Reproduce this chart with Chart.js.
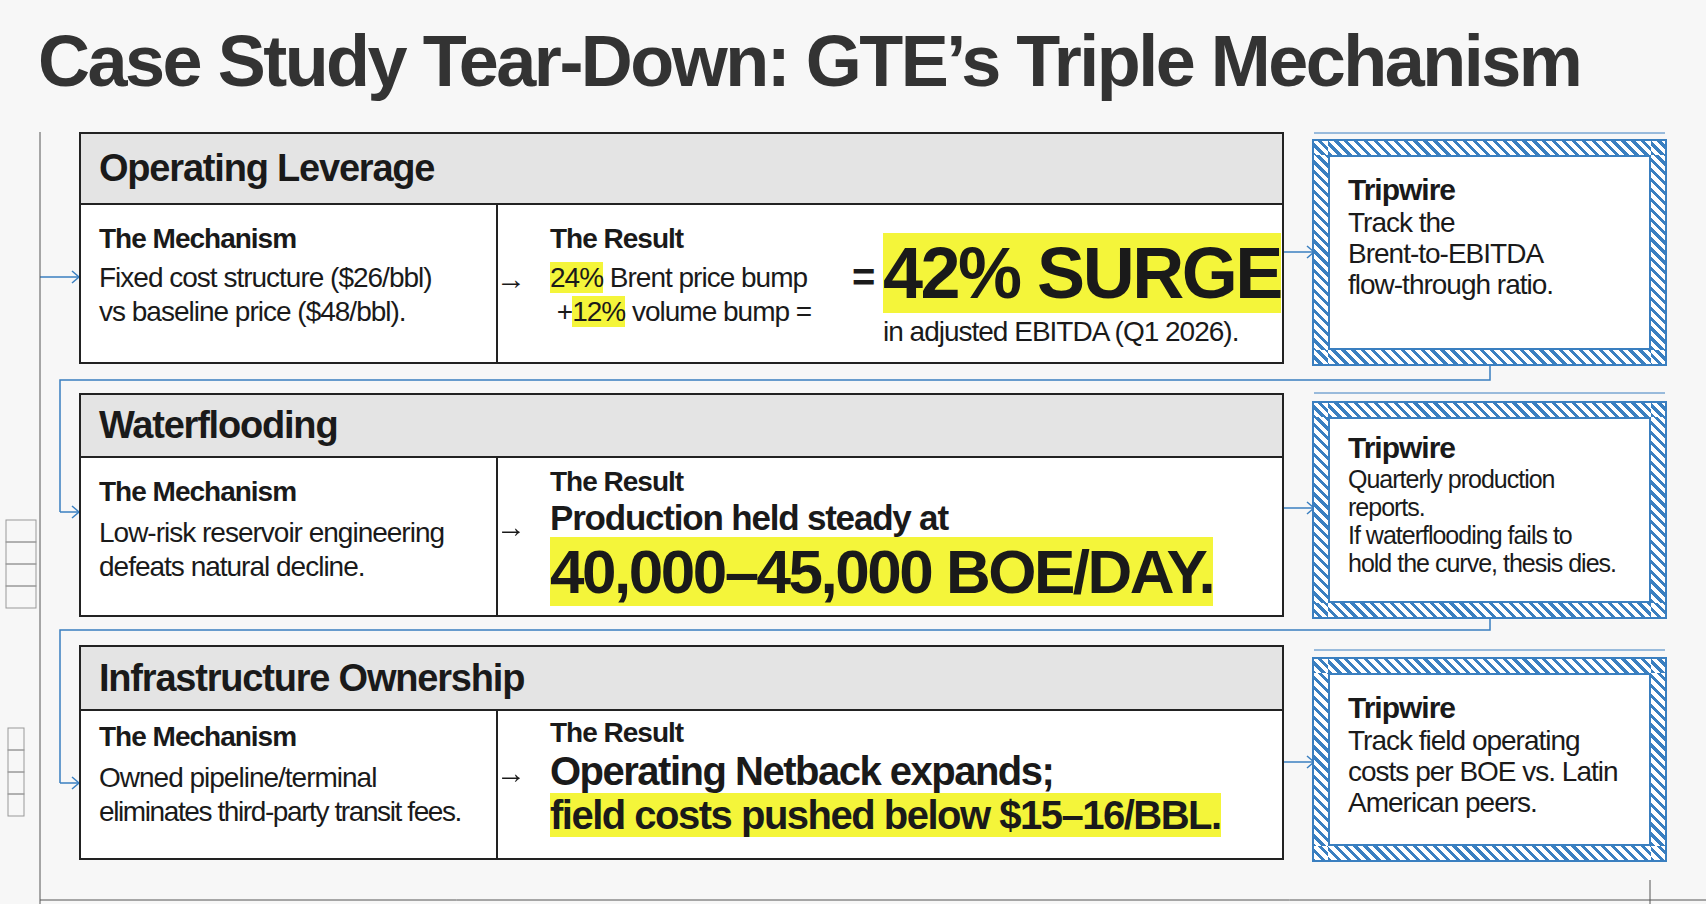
<!DOCTYPE html>
<html><head><meta charset="utf-8">
<script src="https://cdn.jsdelivr.net/npm/chart.js@4.4.0/dist/chart.umd.min.js"></script>
<style>
body{margin:0;width:1706px;height:904px;background:#f7f7f7;font-family:"Liberation Sans",Arial,sans-serif;color:#1a1a1a;position:relative;overflow:hidden}
div{white-space:nowrap}
#bg{position:absolute;left:0;top:0}
h1{position:absolute;left:38px;top:20px;margin:0;font-size:72px;font-weight:700;letter-spacing:-2.5px;color:#333}
.row{position:absolute;left:79px;width:1205px;border:2px solid #222;background:#fff;box-sizing:border-box}
.hd{background:#e4e4e4;border-bottom:2px solid #222;font-weight:700;font-size:38px;letter-spacing:-1.2px;padding-left:18px;box-sizing:border-box;display:flex;align-items:center}
.mech{position:absolute;left:0;width:417px;bottom:0;border-right:2px solid #222;padding:18px 0 0 18px;box-sizing:border-box}
.res{position:absolute;left:419px;right:0;bottom:0;padding:18px 0 0 50px;box-sizing:border-box}
.lbl{font-weight:700;font-size:28px;letter-spacing:-1px}
.txt{font-size:28px;letter-spacing:-1px;line-height:34px}
.hl{background:#f4f53a}
.arr{position:absolute;font-size:30px}
.trip{position:absolute;left:1314px;width:351px;box-sizing:border-box;border:14px solid transparent;
 background:repeating-linear-gradient(45deg,#3a7fc0 0 3px,#fff 3px 7px);outline:2px solid #3a7fc0}
.trip .in{background:#fff;height:100%;border:2px solid #3a7fc0;box-sizing:border-box;padding:16px 18px}
.trip .t{font-weight:700;font-size:30px;letter-spacing:-1px}
.trip .s{font-size:28px;letter-spacing:-1px;line-height:31px}
</style></head><body>
<canvas id="bg" width="1706" height="904"></canvas>
<h1>Case Study Tear-Down: GTE’s Triple Mechanism</h1>

<div class="row" style="top:132px;height:232px">
 <div class="hd" style="height:71px">Operating Leverage</div>
 <div class="mech" style="top:71px"><div class="lbl">The Mechanism</div><div class="txt" style="margin-top:6px">Fixed cost structure ($26/bbl)<br>vs baseline price ($48/bbl).</div></div>
 <div class="res" style="top:71px"><div class="lbl">The Result</div>
  <div class="txt" style="margin-top:6px"><span class="hl">24%</span> Brent price bump<br>&nbsp;+<span class="hl">12%</span> volume bump =</div>
  <div style="position:absolute;left:383px;top:32px;font-size:72px;font-weight:700;letter-spacing:-2.5px;line-height:72px"><span class="hl">42% SURGE</span></div>
  <div class="txt" style="position:absolute;left:383px;top:110px">in adjusted EBITDA (Q1 2026).</div>
  <div style="position:absolute;left:352px;top:50px;font-size:40px;font-weight:700">=</div>
 </div>
</div>

<div class="row" style="top:393px;height:224px">
 <div class="hd" style="height:63px">Waterflooding</div>
 <div class="mech" style="top:63px"><div class="lbl">The Mechanism</div><div class="txt" style="margin-top:8px">Low-risk reservoir engineering<br>defeats natural decline.</div></div>
 <div class="res" style="top:63px;padding-top:8px"><div class="lbl">The Result</div>
  <div style="font-size:35px;font-weight:700;letter-spacing:-1.2px">Production held steady at</div>
  <div style="font-size:62px;font-weight:700;letter-spacing:-2.5px;line-height:68px"><span class="hl">40,000–45,000 BOE/DAY.</span></div>
 </div>
</div>

<div class="row" style="top:645px;height:215px">
 <div class="hd" style="height:64px">Infrastructure Ownership</div>
 <div class="mech" style="top:64px;padding-top:10px"><div class="lbl">The Mechanism</div><div class="txt" style="margin-top:8px">Owned pipeline/terminal<br><span style="letter-spacing:-1.4px">eliminates third-party transit fees.</span></div></div>
 <div class="res" style="top:64px;padding-top:6px"><div class="lbl">The Result</div>
  <div style="font-size:40px;font-weight:700;letter-spacing:-1.5px;line-height:44px">Operating Netback expands;<br><span class="hl">field costs pushed below $15–16/BBL.</span></div>
 </div>
</div>

<div class="arr" style="left:496px;top:262px">→</div>
<div class="arr" style="left:496px;top:510px">→</div>
<div class="arr" style="left:496px;top:756px">→</div>

<div class="trip" style="top:141px;height:223px"><div class="in"><div class="t">Tripwire</div><div class="s">Track the<br>Brent-to-EBITDA<br>flow-through ratio.</div></div></div>
<div class="trip" style="top:403px;height:214px"><div class="in" style="padding-top:12px"><div class="t">Tripwire</div><div class="s" style="font-size:25px;line-height:28px;letter-spacing:-1px">Quarterly production<br>reports.<br>If waterflooding fails to<br>hold the curve, thesis dies.</div></div></div>
<div class="trip" style="top:659px;height:201px"><div class="in"><div class="t">Tripwire</div><div class="s">Track field operating<br>costs per BOE vs. Latin<br>American peers.</div></div></div>

<script>
// connector lines drawn on a Chart.js canvas via plugin
const links = [
  {x1:40,y1:277,x2:79,y2:277},{x1:1284,y1:252,x2:1314,y2:252},
  {x1:1284,y1:508,x2:1314,y2:508},{x1:1284,y1:762,x2:1314,y2:762},
  {x1:60,y1:512,x2:79,y2:512},{x1:60,y1:783,x2:79,y2:783}
];
const paths = [
  [[1490,364],[1490,380],[60,380],[60,512]],
  [[1490,617],[1490,630],[60,630],[60,783]]
];
new Chart(document.getElementById("bg"),{
  type:'scatter',data:{datasets:[]},
  options:{responsive:false,animation:false,plugins:{legend:{display:false},tooltip:{enabled:false}},scales:{x:{display:false},y:{display:false}}},
  plugins:[{id:'lines',afterDraw(c){
    const g=c.ctx;g.save();g.strokeStyle='#3a7fc0';g.lineWidth=1.5;
    paths.forEach(p=>{g.beginPath();g.moveTo(...p[0]);p.slice(1).forEach(q=>g.lineTo(...q));g.stroke();});
    links.forEach(l=>{g.beginPath();g.moveTo(l.x1,l.y1);g.lineTo(l.x2,l.y2);g.stroke();
      g.beginPath();g.moveTo(l.x2-7,l.y2-6);g.lineTo(l.x2,l.y2);g.lineTo(l.x2-7,l.y2+6);g.stroke();});
    g.strokeStyle='#555';g.lineWidth=1;
    g.beginPath();g.moveTo(40,132);g.lineTo(40,904);g.stroke();
    g.beginPath();g.moveTo(40,900);g.lineTo(1706,900);g.stroke();
    g.beginPath();g.moveTo(1650,880);g.lineTo(1650,904);g.stroke();
    g.strokeStyle='#3a7fc0';
    [[1314,133],[1314,393],[1314,650]].forEach(([x,y])=>{g.beginPath();g.moveTo(x,y);g.lineTo(1665,y);g.stroke();});
    g.strokeStyle='#999';
    for(let i=0;i<4;i++){g.strokeRect(6,520+i*22,30,22);g.strokeRect(8,728+i*22,16,22);}
    g.restore();
  }}]
});
</script>
</body></html>
